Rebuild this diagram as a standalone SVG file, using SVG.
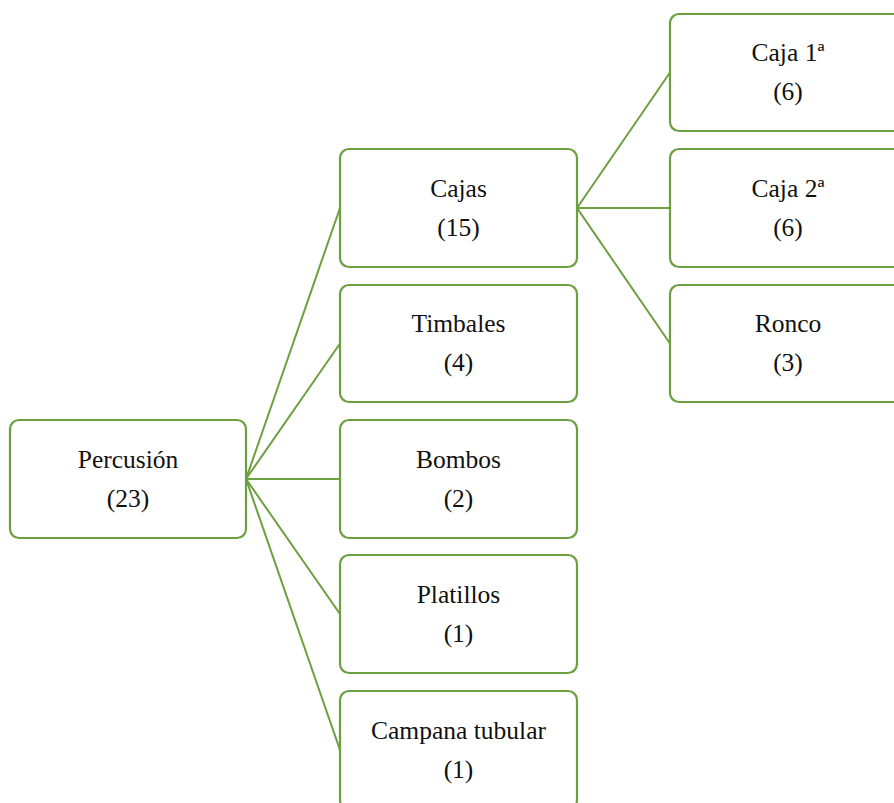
<svg xmlns="http://www.w3.org/2000/svg" width="894" height="803" viewBox="0 0 894 803">
<style>
.box{fill:#fff;stroke:#6c9f40;stroke-width:2.2}
.ln{stroke:#6c9f40;stroke-width:2;fill:none}
</style>
<rect width="894" height="803" fill="#fff"/>
<g id="connectors">
<line class="ln" x1="246" y1="479" x2="340" y2="208"/>
<line class="ln" x1="246" y1="479" x2="340" y2="343.5"/>
<line class="ln" x1="246" y1="479" x2="340" y2="479"/>
<line class="ln" x1="246" y1="479" x2="340" y2="614"/>
<line class="ln" x1="246" y1="479" x2="340" y2="750"/>
<line class="ln" x1="577" y1="208" x2="670" y2="72.5"/>
<line class="ln" x1="577" y1="208" x2="670" y2="208"/>
<line class="ln" x1="577" y1="208" x2="670" y2="343.5"/>
</g>
<g font-family="Liberation Serif, Times New Roman, serif" font-size="25.5" fill="#111" text-anchor="middle">
<g id="percusion"><rect class="box" x="10" y="420" width="236" height="118" rx="9"/><text x="128" y="468">Percusión</text><text x="128" y="507">(23)</text></g>
<g id="cajas"><rect class="box" x="340" y="149" width="237" height="118" rx="9"/><text x="458.5" y="197">Cajas</text><text x="458.5" y="236">(15)</text></g>
<g id="timbales"><rect class="box" x="340" y="285" width="237" height="117" rx="9"/><text x="458.5" y="332">Timbales</text><text x="458.5" y="371">(4)</text></g>
<g id="bombos"><rect class="box" x="340" y="420" width="237" height="118" rx="9"/><text x="458.5" y="468">Bombos</text><text x="458.5" y="507">(2)</text></g>
<g id="platillos"><rect class="box" x="340" y="555" width="237" height="118" rx="9"/><text x="458.5" y="603">Platillos</text><text x="458.5" y="642">(1)</text></g>
<g id="campana"><rect class="box" x="340" y="691" width="237" height="118" rx="9"/><text x="458.5" y="739">Campana tubular</text><text x="458.5" y="778">(1)</text></g>
<g id="caja1"><rect class="box" x="670" y="14" width="237" height="117" rx="9"/><text x="788" y="61">Caja 1ª</text><text x="788" y="100">(6)</text></g>
<g id="caja2"><rect class="box" x="670" y="149" width="237" height="118" rx="9"/><text x="788" y="197">Caja 2ª</text><text x="788" y="236">(6)</text></g>
<g id="ronco"><rect class="box" x="670" y="285" width="237" height="117" rx="9"/><text x="788" y="332">Ronco</text><text x="788" y="371">(3)</text></g>
</g>
</svg>
